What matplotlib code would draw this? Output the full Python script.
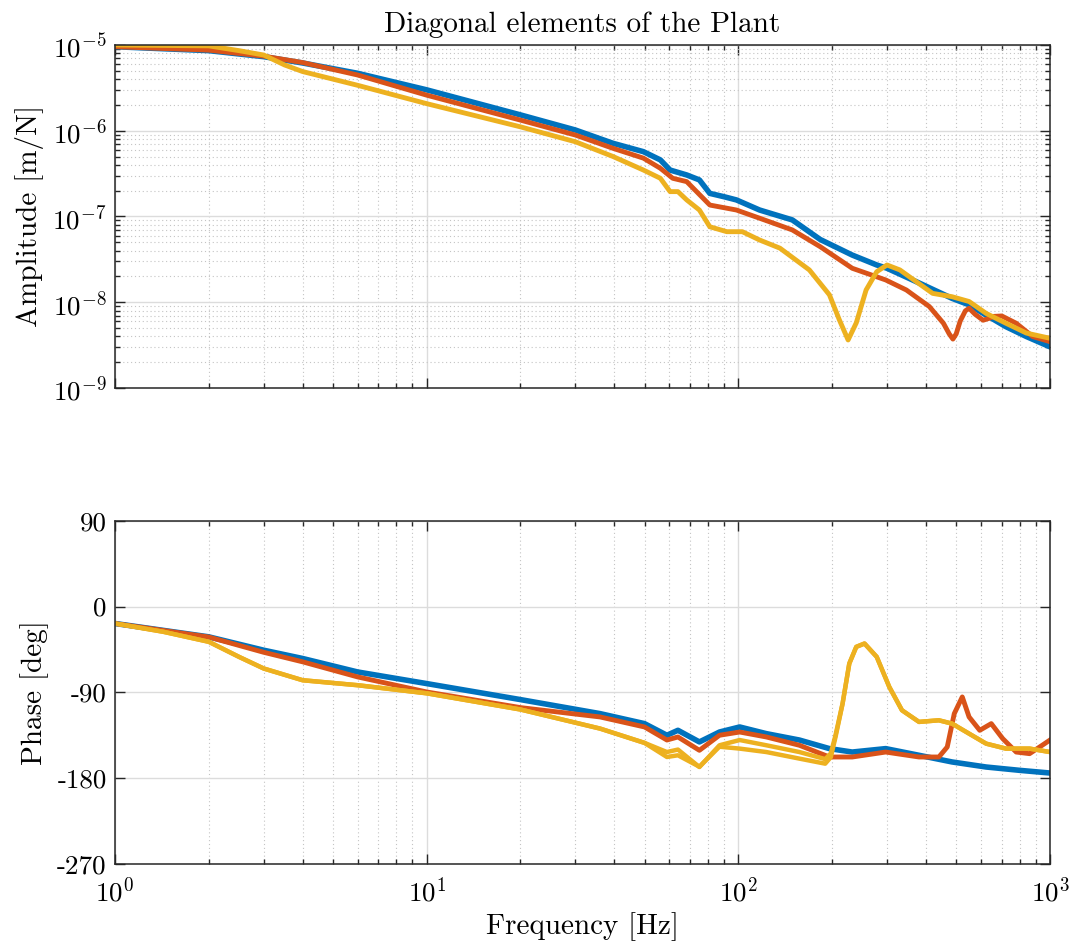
import numpy as np
import matplotlib
matplotlib.use("Agg")
import matplotlib.pyplot as plt
from matplotlib.ticker import FixedLocator, FixedFormatter, LogLocator, NullFormatter, NullLocator

# ---------------- data ----------------
# Amplitude [m/N]
f_amp_blue = [1, 2, 3, 4, 6, 10, 20, 30, 39.6, 49.6, 56.2, 60.4, 68.3, 75, 81, 90, 98.6, 117,
              149, 183, 232, 278, 300, 372, 485, 550, 624, 722, 840, 1000]
amp_blue = [9.55e-6, 8.59e-6, 7.31e-6, 6.17e-6, 4.68e-6, 3.0e-6, 1.53e-6, 1.02e-6, 7.14e-7,
            5.70e-7, 4.57e-7, 3.48e-7, 3.05e-7, 2.67e-7, 1.86e-7, 1.70e-7, 1.56e-7, 1.19e-7,
            9.12e-8, 5.40e-8, 3.55e-8, 2.72e-8, 2.49e-8, 1.74e-8, 1.11e-8, 9.33e-9, 7.08e-9,
            5.19e-9, 3.98e-9, 3.02e-9]

f_amp_orange = [1, 2, 3, 4, 6, 10, 20, 30, 39.6, 49.6, 56.2, 61.6, 68.3, 81, 98.6, 117, 149,
                183, 232, 297, 346, 410, 455, 475, 488, 500, 515, 535, 550, 575, 610, 635, 660,
                700, 779, 880, 1000]
amp_orange = [9.55e-6, 8.71e-6, 7.41e-6, 6.24e-6, 4.47e-6, 2.6e-6, 1.33e-6, 8.91e-7, 6.24e-7,
              4.79e-7, 3.65e-7, 2.79e-7, 2.55e-7, 1.36e-7, 1.19e-7, 9.55e-8, 6.97e-8, 4.45e-8,
              2.49e-8, 1.82e-8, 1.39e-8, 8.91e-9, 5.69e-9, 4.27e-9, 3.72e-9, 4.27e-9, 6.03e-9,
              7.94e-9, 8.51e-9, 7.24e-9, 6.17e-9, 6.46e-9, 6.84e-9, 6.92e-9, 5.69e-9, 3.98e-9,
              3.47e-9]

f_amp_yellow = [1, 2, 2.5, 3, 3.5, 4, 6, 10, 20, 30, 39.6, 49.6, 56.2, 60.4, 64, 68.3, 75, 81,
                91.8, 103, 117, 136, 169, 196, 211, 225, 239, 257, 278, 300, 330, 372, 420,
                485, 550, 624, 722, 840, 1000]
amp_yellow = [1.0e-5, 9.77e-6, 8.59e-6, 7.64e-6, 5.85e-6, 4.90e-6, 3.39e-6, 2.07e-6, 1.11e-6,
              7.44e-7, 5.01e-7, 3.48e-7, 2.79e-7, 1.95e-7, 1.95e-7, 1.56e-7, 1.19e-7, 7.59e-8,
              6.65e-8, 6.65e-8, 5.32e-8, 4.27e-8, 2.38e-8, 1.22e-8, 6.21e-9, 3.63e-9, 5.75e-9,
              1.39e-8, 2.27e-8, 2.72e-8, 2.38e-8, 1.74e-8, 1.27e-8, 1.16e-8, 1.02e-8, 7.41e-9,
              5.69e-9, 4.37e-9, 3.80e-9]

# Phase [deg]
f_ph_blue = [1, 2, 3, 4, 6, 10, 20, 36, 50, 59, 64, 75, 87, 101, 123, 157, 196, 232, 297,
             380, 485, 624, 800, 1000]
ph_blue = [-17.8, -31.8, -45.8, -54.5, -68.6, -80.8, -97.6, -112.3, -122.8, -135, -129.8, -142,
           -131.6, -126.3, -133.3, -140, -149, -152.6, -149, -156, -163, -168.3, -171.8, -174.6]

f_ph_orange = [1, 2, 3, 4, 6, 10, 20, 36, 50, 59, 64, 75, 87, 101, 123, 157, 196, 232, 297,
               380, 440, 468, 493, 523, 550, 595, 648, 705, 779, 860, 944, 1000]
ph_orange = [-17.8, -32, -48, -58, -73.8, -89.6, -106, -115.8, -126.3, -140, -136.8, -150.8,
             -135, -131.6, -136.8, -145.5, -157.8, -157.8, -152.6, -157.8, -157.8, -147.3,
             -112.3, -94.8, -115.8, -129.8, -122.8, -138.5, -152.6, -154.3, -145.5, -140]

f_ph_yellow = [1, 1.43, 2, 2.5, 3, 4, 6, 10, 20, 36, 50, 59, 64, 75, 87, 101, 123, 157, 190,
               198, 205, 216, 227, 239, 254, 278, 305, 335, 380, 440, 485, 550, 624, 722, 860,
               1000]
ph_yellow_a = [-17.8, -26.5, -37, -52.8, -65, -77.3, -82.5, -91, -108, -128, -143, -152.6,
               -150, -168.3, -145.5, -140, -145.5, -152.6, -160, -154, -135, -101.8, -59.8,
               -42.3, -38.8, -52.8, -84.3, -108.8, -121, -119.3, -122.8, -133.3, -143.8, -149,
               -149, -152.6]
ph_yellow_b = [-17.8, -26.5, -37, -52.8, -65, -77.3, -82.5, -91, -108, -128, -143, -157.8,
               -156, -168, -147, -149, -152.6, -159.5, -164.8, -158, -137, -101.8, -59.8,
               -42.3, -38.8, -52.8, -84.3, -108.8, -121, -119.3, -122.8, -133.3, -143.8, -149,
               -149, -152.6]

ytick_amp = [1e-9, 1e-8, 1e-7, 1e-6, 1e-5]
ytick_amp_labels = [r"$10^{-9}$", r"$10^{-8}$", r"$10^{-7}$", r"$10^{-6}$", r"$10^{-5}$"]
ytick_ph = [-270, -180, -90, 0, 90]
ytick_ph_labels = ["-270", "-180", "-90", "0", "90"]
xtick = [1, 10, 100, 1000]
xtick_labels = [r"$10^{0}$", r"$10^{1}$", r"$10^{2}$", r"$10^{3}$"]

C_BLUE = "#0072BD"
C_ORANGE = "#D95319"
C_YELLOW = "#EDB120"

# ---------------- style ----------------
plt.rcParams["font.family"] = ["cmr10", "DejaVu Serif"]
plt.rcParams["mathtext.fontset"] = "cm"
plt.rcParams["axes.unicode_minus"] = False

LABEL_FS = 21
TICK_FS = 19.5

fig = plt.figure(figsize=(10.75, 9.47), dpi=100)
ax1 = fig.add_axes([0.10698, 0.59029, 0.86977, 0.36220])
ax2 = fig.add_axes([0.10698, 0.08765, 0.86977, 0.36251])


def style_axis(ax):
    ax.set_xscale("log")
    ax.set_xlim(1, 1000)
    ax.xaxis.set_major_locator(FixedLocator(xtick))
    ax.xaxis.set_minor_locator(LogLocator(base=10, subs=np.arange(2, 10), numticks=20))
    ax.xaxis.set_minor_formatter(NullFormatter())
    ax.tick_params(which="both", direction="in", top=True, right=True, labelsize=TICK_FS,
                   color="#262626", width=1.0)
    ax.tick_params(which="major", length=7)
    ax.tick_params(which="minor", length=3.5)
    ax.tick_params(axis="x", which="major", pad=9)
    ax.tick_params(axis="y", which="major", pad=6)
    ax.grid(True, which="major", color="#dcdcdc", lw=1.0, ls="-")
    ax.grid(True, which="minor", color="#c4c4c4", lw=0.8, ls=(0, (1, 2.5)))
    ax.set_axisbelow(True)
    for s in ax.spines.values():
        s.set_linewidth(1.1)
        s.set_color("#262626")


# ---- amplitude ----
style_axis(ax1)
ax1.set_yscale("log")
ax1.set_ylim(1e-9, 1e-5)
ax1.yaxis.set_major_locator(FixedLocator(ytick_amp))
ax1.yaxis.set_major_formatter(FixedFormatter(ytick_amp_labels))
ax1.yaxis.set_minor_locator(LogLocator(base=10, subs=np.arange(2, 10), numticks=20))
ax1.yaxis.set_minor_formatter(NullFormatter())
ax1.xaxis.set_major_formatter(NullFormatter())

ax1.plot(f_amp_blue, amp_blue, color=C_BLUE, lw=4.0, solid_joinstyle="round")
ax1.plot(f_amp_orange, amp_orange, color=C_ORANGE, lw=3.5, solid_joinstyle="round")
ax1.plot(f_amp_yellow, amp_yellow, color=C_YELLOW, lw=3.5, solid_joinstyle="round")
ax1.set_ylabel("Amplitude [m/N]", fontsize=LABEL_FS, labelpad=6)
ax1.set_title("Diagonal elements of the Plant", fontsize=LABEL_FS, pad=9)

# ---- phase ----
style_axis(ax2)
ax2.set_ylim(-270, 90)
ax2.yaxis.set_major_locator(FixedLocator(ytick_ph))
ax2.yaxis.set_major_formatter(FixedFormatter(ytick_ph_labels))
ax2.yaxis.set_minor_locator(NullLocator())
ax2.xaxis.set_major_formatter(FixedFormatter(xtick_labels))

ax2.plot(f_ph_blue, ph_blue, color=C_BLUE, lw=4.0, solid_joinstyle="round")
ax2.plot(f_ph_orange, ph_orange, color=C_ORANGE, lw=3.5, solid_joinstyle="round")
ax2.plot(f_ph_yellow, ph_yellow_a, color=C_YELLOW, lw=3.2, solid_joinstyle="round")
ax2.plot(f_ph_yellow, ph_yellow_b, color=C_YELLOW, lw=3.2, solid_joinstyle="round")
ax2.set_ylabel("Phase [deg]", fontsize=LABEL_FS, labelpad=6)
ax2.set_xlabel("Frequency [Hz]", fontsize=LABEL_FS, labelpad=4)

fig.savefig("out.png", dpi=100)
